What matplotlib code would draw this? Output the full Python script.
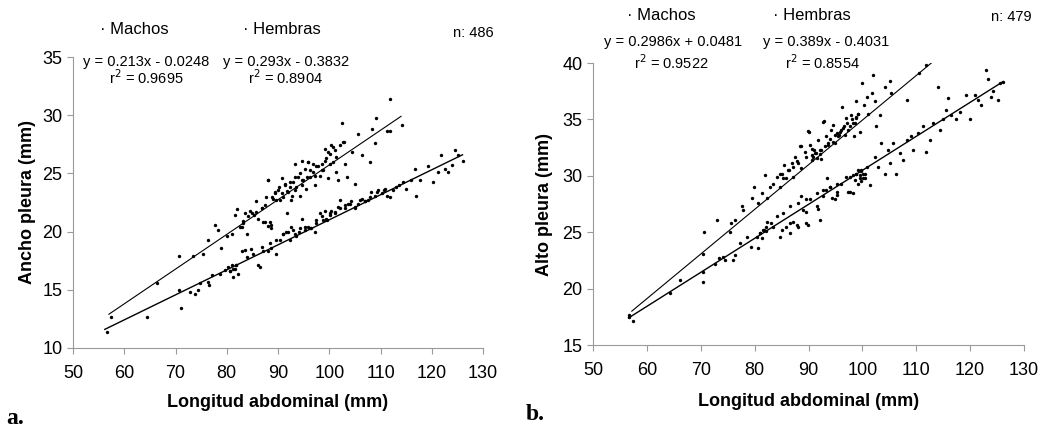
import matplotlib
matplotlib.use("Agg")
import matplotlib.pyplot as plt

# --- a. Ancho pleura vs longitud abdominal ---
a_hembras_x = [57.5, 64.4, 66.3, 70.7, 73.5, 75.4, 76.4, 77.8, 78.3, 78.8, 80.0, 81.1, 82.0, 81.6,
               82.9, 83.2, 83.5, 83.9, 84.5, 85.3, 85.8, 86.1, 86.8, 87.1, 88.1, 87.6, 88.4, 88.7,
               89.0, 89.4, 90.0, 90.3, 90.7, 91.0, 91.3, 91.7, 92.0, 92.3, 92.6, 93.0, 93.3, 93.9,
               94.2, 94.6, 94.9, 95.5, 95.9, 96.2, 96.8, 97.2, 97.5, 98.1, 98.5, 98.8, 99.1, 99.4,
               99.8, 100.1, 100.4, 100.8, 101.1, 101.4, 101.8, 102.4, 102.8, 103.1, 103.4, 104.4,
               105.0, 105.7, 106.3, 108.0, 108.3, 109.0, 109.2, 111.2, 111.8, 114.1, 111.9,
               82.6, 83.2, 84.2, 84.9, 85.8, 86.8, 87.5, 88.1, 88.8, 89.4, 89.7, 90.1, 90.7, 91.4,
               91.7, 92.3, 92.7, 93.3, 93.6, 94.3, 94.6, 95.3, 95.6, 96.2, 96.8, 97.2, 97.9, 98.5,
               99.2, 99.8, 100.1, 100.8, 101.4, 102.1, 102.7, 95.9, 94.6, 93.3, 87.5, 88.1, 88.6]
a_hembras_y = [12.7, 12.7, 15.6, 17.9, 17.9, 18.1, 19.3, 20.6, 20.1, 18.6, 19.6, 19.8, 21.9, 21.4,
               20.4, 20.9, 21.6, 19.8, 21.8, 21.4, 22.6, 21.1, 22.0, 20.8, 24.4, 23.0, 20.8, 20.6,
               22.8, 23.3, 23.6, 22.7, 24.6, 23.0, 24.0, 21.6, 23.4, 23.8, 22.7, 24.3, 23.6, 24.7,
               23.1, 24.0, 24.4, 23.7, 26.0, 24.7, 25.1, 24.0, 25.6, 24.8, 25.8, 25.3, 27.1, 26.3,
               24.6, 26.7, 27.4, 26.0, 27.0, 25.1, 24.4, 29.3, 27.7, 25.8, 24.7, 26.8,
               24.1, 28.4, 26.6, 26.0, 28.8, 27.6, 29.8, 28.6, 28.6, 29.2, 31.4,
               20.4, 20.7, 21.3, 21.6, 21.7, 22.0, 22.3, 24.4, 23.0, 23.4, 22.7, 23.8, 23.3, 24.1,
               23.5, 24.3, 23.1, 24.7, 23.8, 25.0, 24.4, 25.4, 24.7, 25.3, 25.8, 24.8, 25.6, 25.3,
               26.1, 26.8, 25.8, 27.3, 26.4, 27.4, 27.7, 26.0, 26.1, 25.8, 20.8, 20.5, 20.3]

a_machos_x = [56.7, 70.7, 71.1, 72.8, 73.8, 74.4, 74.8, 76.4, 76.6, 77.1, 78.7, 79.7, 80.3, 80.6,
              81.0, 81.3, 81.6, 81.9, 82.2, 82.9, 83.9, 84.8, 86.1, 86.5, 87.1, 88.1, 88.7, 89.7,
              90.3, 91.0, 91.6, 92.3, 92.6, 93.3, 93.6, 94.2, 94.6, 95.2, 95.9, 96.5, 97.2, 97.5,
              98.1, 98.8, 99.1, 99.4, 100.1, 100.4, 101.1, 101.7, 102.1, 103.1, 103.7, 104.3, 105.0,
              105.6, 106.3, 106.9, 107.6, 108.2, 108.9, 109.5, 110.2, 110.8, 111.8, 112.4, 113.1,
              113.7, 114.4, 115.0, 116.0, 116.7, 117.0, 117.7, 119.3, 120.3, 121.3, 121.9, 122.6,
              123.2, 123.9, 124.5, 125.2, 126.0,
              91.0, 92.0, 93.0, 94.0, 95.3, 96.2, 97.5, 98.5, 99.5, 100.1, 101.1, 102.1, 103.1,
              104.0, 105.0, 106.0, 107.0, 107.9, 109.3, 110.6, 111.2, 81.3, 80.6, 81.9, 83.6,
              85.2, 86.8, 88.4, 89.7]
a_machos_y = [11.4, 15.0, 13.4, 14.8, 14.6, 15.0, 15.6, 15.7, 15.4, 16.3, 16.4, 16.7, 17.0, 16.6,
              17.1, 16.1, 16.8, 17.1, 16.4, 18.3, 17.8, 18.5, 17.1, 17.0, 18.3, 18.3, 18.6, 18.1,
              19.3, 19.8, 20.0, 19.3, 20.4, 19.8, 19.6, 20.3, 21.1, 20.1, 20.4, 20.3, 20.0, 20.7,
              21.6, 21.0, 21.8, 21.1, 21.4, 21.8, 21.6, 22.1, 22.7, 22.0, 22.4, 22.6, 22.0,
              22.4, 22.8, 22.6, 22.7, 23.4, 23.1, 23.6, 23.3, 23.7, 23.0, 23.6, 23.8,
              24.0, 24.3, 23.7, 24.4, 25.4, 23.1, 24.4, 25.6, 24.3, 25.1, 26.6, 25.4,
              25.1, 25.7, 27.0, 26.6, 26.1,
              19.8, 20.0, 20.1, 20.0, 20.4, 20.3, 21.0, 21.3, 21.0, 21.6, 21.7, 22.0, 22.3,
              22.4, 22.1, 22.7, 22.6, 23.0, 23.4, 23.6, 23.1, 16.8, 16.6, 17.1, 18.4,
              18.1, 18.7, 19.0, 19.3]

a_trend_hembras_x = [57.0, 114.0]
a_trend_hembras_y = [12.9, 29.9]
a_trend_machos_x = [56.2, 126.0]
a_trend_machos_y = [11.6, 26.6]

# --- b. Alto pleura vs longitud abdominal ---
b_hembras_x = [56.6, 57.5, 66.1, 70.5, 70.6, 73.0, 75.4, 75.7, 76.3, 77.6, 77.9, 79.6, 79.9, 80.7,
               81.3, 81.9, 82.3, 82.8, 83.5, 84.1, 84.7, 85.0, 85.4, 85.9, 86.4, 86.9, 87.2, 87.5,
               87.9, 88.4, 88.7, 89.3, 89.9, 90.3, 90.6, 90.9, 91.0, 91.4, 91.8, 92.1, 92.4, 92.9,
               93.2, 93.6, 94.1, 94.6, 94.9, 95.3, 95.7, 96.0, 96.3, 96.6, 97.0, 97.4, 97.8, 98.2,
               98.4, 98.8, 98.9, 99.2, 99.5, 100.0, 100.3, 100.8, 101.1, 101.7, 102.0, 102.3, 102.6,
               103.2, 104.2, 105.1, 105.4, 108.2, 110.6, 111.9,
               89.6, 90.6, 91.2, 91.5, 92.1, 92.4, 93.0, 93.7, 94.0, 94.6, 94.9, 95.5, 95.8, 96.4,
               96.8, 97.1, 97.7, 98.0, 98.6, 98.9, 99.2, 84.7, 85.3, 86.2, 87.2, 88.1, 88.7, 90.0,
               92.7, 90.6, 86.5, 87.8, 88.7, 89.6]
b_hembras_y = [17.7, 17.1, 20.8, 23.1, 25.0, 26.1, 25.0, 25.8, 26.1, 27.3, 27.0, 28.0, 29.0, 27.6,
               28.5, 30.1, 28.0, 29.0, 29.3, 29.9, 29.0, 30.2, 31.0, 29.8, 30.5, 31.1, 29.9, 31.7,
               31.3, 32.6, 30.7, 32.1, 34.0, 32.7, 31.8, 31.7, 32.3, 32.0, 33.2, 32.3, 31.5, 34.9,
               33.5, 32.7, 34.1, 34.5, 32.9, 33.8, 33.6, 34.1, 36.1, 34.4, 35.1, 34.1, 35.4, 34.7,
               33.5, 36.6, 35.1, 35.5, 33.9, 38.2, 36.3, 37.0, 35.5, 37.3, 38.9, 36.6, 34.4,
               35.4, 37.9, 38.4, 37.3, 36.7, 39.1, 39.8,
               31.7, 31.4, 32.0, 31.6, 31.9, 32.3, 32.6, 32.9, 33.3, 33.0, 33.6, 33.5, 33.9, 34.2,
               33.6, 34.7, 34.4, 35.0, 34.7, 35.2, 35.5, 30.2, 29.8, 30.5, 30.8, 31.1, 32.6, 33.9,
               34.8, 32.4, 24.9, 25.6, 28.2, 26.8]

b_machos_x = [56.6, 64.3, 70.5, 70.5, 72.6, 73.3, 74.2, 74.5, 76.0, 76.3, 77.3, 78.5, 79.4, 80.4,
              80.7, 81.0, 81.3, 81.7, 82.2, 82.3, 83.5, 84.7, 85.0, 85.9, 86.5, 87.2, 88.1, 89.0,
              89.9, 90.3, 91.5, 91.8, 92.7, 93.3, 94.0, 94.3, 94.9, 95.2, 96.1, 97.0, 97.4, 98.3,
              98.9, 99.2, 99.5, 99.8, 100.1, 100.4, 100.8, 101.4, 102.3, 102.9, 103.5, 104.2, 104.8,
              105.1, 105.7, 106.3, 106.9, 107.6, 108.2, 109.1, 109.4, 110.3, 111.3, 111.9, 112.5,
              113.1, 114.1, 114.4, 115.0, 115.6, 115.9, 116.5, 117.4, 118.1, 119.3, 119.9, 120.9,
              121.5, 122.1, 123.0, 123.3, 123.9, 124.2, 125.2, 125.5, 126.1,
              97.7, 98.3, 98.9, 99.2, 99.5, 99.8, 100.2, 100.5, 99.8, 98.6, 81.0, 81.6, 82.2,
              83.1, 84.1, 85.3, 86.5, 88.1, 89.6, 91.5, 92.7, 94.0, 95.2, 93.4, 95.2, 97.7,
              92.1, 89.6]
b_machos_y = [17.5, 19.6, 20.6, 21.5, 22.2, 22.7, 22.8, 22.5, 22.5, 23.0, 24.0, 24.6, 23.7, 24.6,
              23.6, 24.9, 24.5, 25.2, 25.1, 25.9, 25.5, 24.6, 25.2, 25.5, 25.8, 25.9, 25.5, 27.0,
              25.6, 27.9, 27.3, 27.1, 28.2, 28.7, 29.0, 28.0, 27.9, 28.3, 29.3, 29.9, 28.6, 28.5,
              30.2, 29.3, 29.8, 30.5, 30.2, 29.8, 30.8, 29.2, 31.7, 30.8, 32.9, 30.2, 32.3,
              31.1, 32.9, 30.2, 32.0, 31.4, 33.2, 33.5, 32.3, 33.8, 34.4, 32.1, 33.2,
              34.7, 37.9, 34.1, 35.0, 35.8, 36.9, 35.4, 35.0, 35.7, 37.2, 35.0, 37.2,
              36.7, 36.3, 39.4, 38.6, 37.0, 37.5, 36.7, 38.2, 38.3,
              29.9, 30.1, 30.2, 30.5, 30.1, 30.4, 29.8, 30.2, 29.5, 29.6, 24.9, 25.2, 25.5,
              25.8, 26.4, 26.7, 27.3, 27.6, 27.9, 28.5, 28.7, 29.0, 29.3, 29.8, 28.6, 28.6,
              26.1, 25.8]

b_trend_hembras_x = [57.2, 112.8]
b_trend_hembras_y = [18.0, 40.0]
b_trend_machos_x = [56.6, 126.1]
b_trend_machos_y = [17.4, 38.35]

W, H = 1042, 432
FONT = "Liberation Sans"


def fx(px):
    return px / W


def fy(py):
    return 1 - py / H


def style_axes(ax, ylim, yticks):
    ax.set_xlim(50, 130)
    ax.set_ylim(*ylim)
    ax.set_xticks(range(50, 131, 10))
    ax.set_yticks(yticks)
    for s in ["top", "right"]:
        ax.spines[s].set_visible(False)
    for s in ["left", "bottom"]:
        ax.spines[s].set_color("#9a9a9a")
        ax.spines[s].set_linewidth(0.8)
    ax.tick_params(colors="#9a9a9a", length=4, width=0.8, labelcolor="black",
                   labelsize=13)
    for lab in ax.get_xticklabels() + ax.get_yticklabels():
        lab.set_family(FONT)
    ax.tick_params(axis="x", pad=8)


fig = plt.figure(figsize=(W / 100, H / 100), dpi=100)

# Panel a
ax1 = fig.add_axes([fx(73), fy(348), fx(483 - 73), (348 - 57) / H])
ax1.scatter(a_hembras_x, a_hembras_y, s=6, c="black", linewidths=0)
ax1.scatter(a_machos_x, a_machos_y, s=6, c="black", linewidths=0)
ax1.plot(a_trend_hembras_x, a_trend_hembras_y, color="black", lw=0.8)
ax1.plot(a_trend_machos_x, a_trend_machos_y, color="black", lw=1.0)
style_axes(ax1, (10, 35), range(10, 36, 5))
ax1.set_ylabel("Ancho pleura (mm)", family=FONT, fontsize=13, fontweight="bold", labelpad=5)
ax1.set_xlabel("Longitud abdominal (mm)", family=FONT, fontsize=13, fontweight="bold", labelpad=9)

# Panel b
ax2 = fig.add_axes([fx(593), fy(345), fx(1024 - 593), (345 - 63) / H])
ax2.scatter(b_hembras_x, b_hembras_y, s=6, c="black", linewidths=0)
ax2.scatter(b_machos_x, b_machos_y, s=6, c="black", linewidths=0)
ax2.plot(b_trend_hembras_x, b_trend_hembras_y, color="black", lw=0.8)
ax2.plot(b_trend_machos_x, b_trend_machos_y, color="black", lw=1.0)
style_axes(ax2, (15, 40), range(15, 41, 5))
ax2.set_ylabel("Alto pleura (mm)", family=FONT, fontsize=13, fontweight="bold", labelpad=7)
ax2.set_xlabel("Longitud abdominal (mm)", family=FONT, fontsize=13, fontweight="bold", labelpad=10)

# header texts (legend, equations, n)
leg = dict(family=FONT, fontsize=12, va="center")
txt = dict(family=FONT, fontsize=10.5, va="center")
fig.text(fx(100), fy(30), "\u00b7 Machos", ha="left", **leg)
fig.text(fx(243), fy(30), "\u00b7 Hembras", ha="left", **leg)
fig.text(fx(473), fy(33), "n: 486", ha="center", fontsize=10.5, family=FONT, va="center")
fig.text(fx(146), fy(62), "y = 0.213x - 0.0248", ha="center", **txt)
fig.text(fx(146), fy(78), "r$^2$ = 0.9695", ha="center", **txt)
fig.text(fx(286), fy(62), "y = 0.293x - 0.3832", ha="center", **txt)
fig.text(fx(286), fy(78), "r$^2$ = 0.8904", ha="center", **txt)

fig.text(fx(627), fy(15), "\u00b7 Machos", ha="left", **leg)
fig.text(fx(773), fy(15), "\u00b7 Hembras", ha="left", **leg)
fig.text(fx(1011), fy(17), "n: 479", ha="center", fontsize=10.5, family=FONT, va="center")
fig.text(fx(673), fy(42), "y = 0.2986x + 0.0481", ha="center", **txt)
fig.text(fx(671), fy(63), "r$^2$ = 0.9522", ha="center", **txt)
fig.text(fx(826), fy(42), "y = 0.389x - 0.4031", ha="center", **txt)
fig.text(fx(823), fy(63), "r$^2$ = 0.8554", ha="center", **txt)

# panel letters
fig.text(fx(6), fy(418), "a.", family="Liberation Serif", fontsize=17, fontweight="bold", va="center")
fig.text(fx(526), fy(414), "b.", family="Liberation Serif", fontsize=17, fontweight="bold", va="center")

fig.savefig("out.png", dpi=100)
